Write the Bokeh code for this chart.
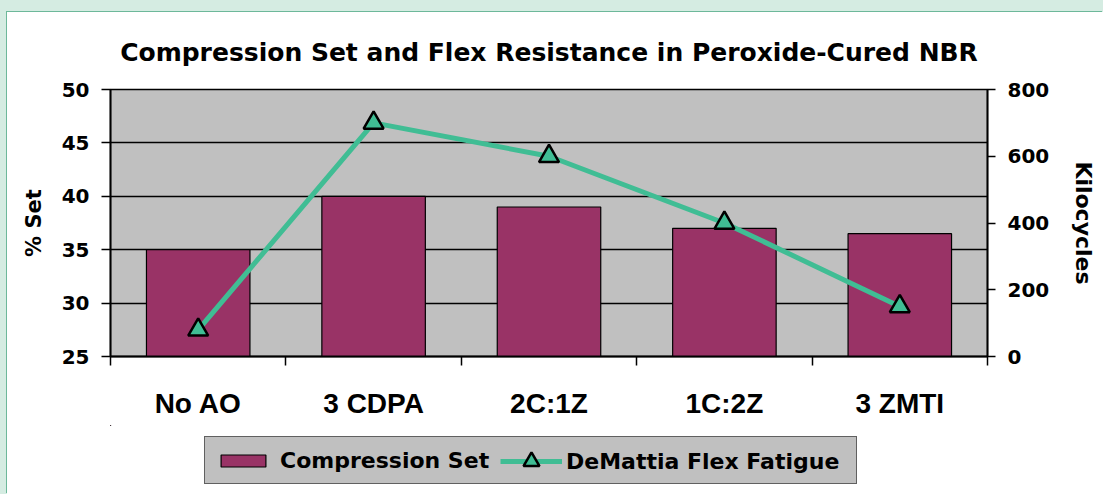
from bokeh.plotting import figure
from bokeh.layouts import column
from bokeh.models import ColumnDataSource, Range1d, LinearAxis, FixedTicker, Legend, LegendItem
from bokeh.embed import file_html
from bokeh.resources import INLINE

# ---- data ----
categories = ["No AO", "3 CDPA", "2C:1Z", "1C:2Z", "3 ZMTI"]
compression_set = [35, 40, 39, 37, 36.5]
flex_fatigue = [80, 700, 600, 400, 150]
left_ticks = [25, 30, 35, 40, 45, 50]
right_ticks = [0, 200, 400, 600, 800]
series_names = ["Compression Set", "DeMattia Flex Fatigue"]

# ---- style ----
BAR = "#993366"
LINE = "#40BD94"
PLOT_BG = "#C0C0C0"
WIDE = "DejaVu Sans"
FONT = "Liberation Sans"

x_pos = [i + 0.5 for i in range(len(categories))]
src = ColumnDataSource(dict(x=x_pos, cat=categories, cs=compression_set, ff=flex_fatigue))

p = figure(width=1096, height=413,
           x_range=Range1d(0, len(categories)),
           y_range=Range1d(left_ticks[0], left_ticks[-1]),
           output_backend="svg", toolbar_location=None,
           min_border_left=103, min_border_right=116,
           min_border_top=77, min_border_bottom=69,
           background_fill_color=PLOT_BG, border_fill_color="white",
           outline_line_color="black", outline_line_width=1.5)
p.extra_y_ranges = {"kc": Range1d(right_ticks[0], right_ticks[-1])}

# title
p.title.text = "Compression Set and Flex Resistance in Peroxide-Cured NBR"
p.title.align = "center"
p.title.vertical_align = "top"
p.title.text_font = WIDE
p.title.text_font_style = "bold"
p.title.text_font_size = "25px"
p.title.text_color = "black"
p.title.offset = 12
p.title.standoff = 42

# x axis
xa = p.xaxis[0]
xa.ticker = FixedTicker(ticks=x_pos, minor_ticks=list(range(len(categories) + 1)))
xa.major_label_overrides = {x: c for x, c in zip(x_pos, categories)}
xa.major_tick_line_color = None
xa.major_tick_out = 9
xa.major_tick_in = 0
xa.minor_tick_line_color = "black"
xa.minor_tick_line_width = 1.5
xa.minor_tick_out = 9
xa.minor_tick_in = 0
xa.axis_line_color = "black"
xa.axis_line_width = 1.8
xa.major_label_text_font = FONT
xa.major_label_text_font_style = "bold"
xa.major_label_text_font_size = "28px"
xa.major_label_text_color = "black"
xa.major_label_standoff = 22

# left axis
ya = p.yaxis[0]
ya.ticker = FixedTicker(ticks=left_ticks)
ya.axis_label = "% Set"
ya.axis_label_text_font = WIDE
ya.axis_label_text_font_style = "bold"
ya.axis_label_text_font_size = "21px"
ya.axis_label_text_color = "black"
ya.axis_label_standoff = 13
ya.major_label_text_font = WIDE
ya.major_label_text_font_style = "bold"
ya.major_label_text_font_size = "20px"
ya.major_label_text_color = "black"
ya.major_label_standoff = 12
ya.major_tick_out = 9
ya.major_tick_in = 0
ya.major_tick_line_width = 1.5
ya.minor_tick_line_color = None
ya.axis_line_width = 1.8

# right axis
ra = LinearAxis(y_range_name="kc", ticker=FixedTicker(ticks=right_ticks), axis_label="Kilocycles")
ra.axis_label_text_font = WIDE
ra.axis_label_text_font_style = "bold"
ra.axis_label_text_font_size = "22px"
ra.axis_label_text_color = "black"
ra.axis_label_standoff = 19
ra.major_label_text_font = WIDE
ra.major_label_text_font_style = "bold"
ra.major_label_text_font_size = "20px"
ra.major_label_text_color = "black"
ra.major_label_standoff = 12
ra.major_tick_out = 8
ra.major_tick_in = 0
ra.major_tick_line_width = 1.5
ra.minor_tick_line_color = None
ra.axis_line_width = 1.8
p.add_layout(ra, "right")

# grid
p.xgrid.visible = False
p.ygrid[0].ticker = FixedTicker(ticks=left_ticks)
p.ygrid.grid_line_color = "black"
p.ygrid.grid_line_width = 1.3

# glyphs
bar_style = dict(fill_color=BAR, line_color="black", line_width=1.2)
line_style = dict(line_color=LINE, line_width=5)
mark_style = dict(marker="triangle", fill_color=LINE, line_color="black", line_width=2.5)

p.vbar(x="x", top="cs", bottom=left_ticks[0], width=0.59, source=src, **bar_style)
p.line("x", "ff", y_range_name="kc", source=src, **line_style)
p.scatter("x", "ff", size=20, y_range_name="kc", source=src, **mark_style)

# ---- legend row (strip under the chart; its glyphs fall far outside its view) ----
q = figure(width=1096, height=69, x_range=Range1d(100, 101), y_range=Range1d(-2, -1),
           output_backend="svg", toolbar_location=None,
           min_border_left=0, min_border_right=0, min_border_top=0, min_border_bottom=0,
           background_fill_color="white", border_fill_color="white", outline_line_color=None)
q.axis.visible = False
q.grid.visible = False
lb = q.vbar(x="x", top="cs", bottom=left_ticks[0], width=0.59, source=src, **bar_style)
ll = q.line("x", "ff", source=src, **line_style)
lm = q.scatter("x", "ff", size=16, source=src, **mark_style)

lab = dict(label_text_font=WIDE, label_text_font_style="bold", label_text_font_size="22px",
           label_text_color="black", margin=0, orientation="horizontal")
legA = Legend(items=[LegendItem(label=series_names[0], renderers=[lb])],
              location=(94, 10), padding=10, glyph_width=56, glyph_height=15,
              label_height=26, label_standoff=9, label_width=566,
              background_fill_color=PLOT_BG, background_fill_alpha=1.0,
              border_line_color="black", border_line_width=1.5, **lab)
legB = Legend(items=[LegendItem(label=series_names[1], renderers=[ll, lm])],
              location=(390, 13), padding=0, glyph_width=62, glyph_height=40,
              label_height=40, label_standoff=4,
              background_fill_alpha=0.0, border_line_color=None, **lab)
q.add_layout(legA)
q.add_layout(legB)

layout = column(p, q, spacing=0)
layout.styles = {"box-shadow": "-1px -1px 0 0 #6db89a", "margin-top": "12px", "margin-left": "7px",
                 "background-color": "white"}

html = file_html(layout, INLINE, title="Compression Set and Flex Resistance")
html = html.replace("</head>", "<style>html, body { background-color: #d5ece2 !important; }</style></head>", 1)
open("out.html", "w").write(html)
